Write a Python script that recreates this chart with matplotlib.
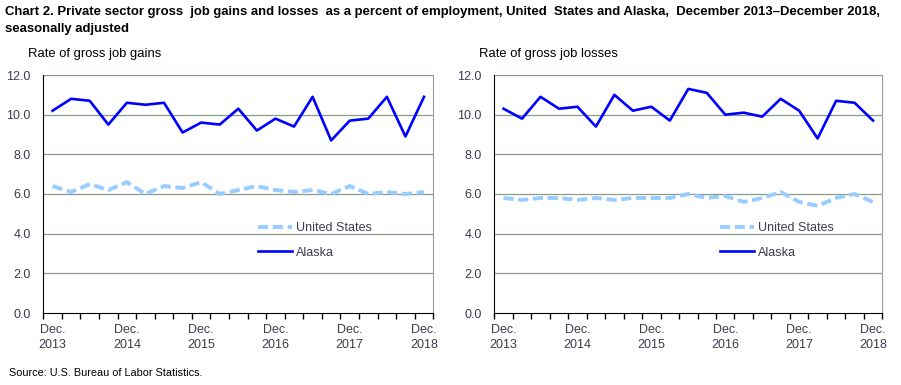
import matplotlib
matplotlib.use("Agg")
import matplotlib.pyplot as plt
from matplotlib import font_manager

names = {f.name for f in font_manager.fontManager.ttflist}
TITLE_FONT = "Liberation Sans Narrow" if "Liberation Sans Narrow" in names else "Liberation Sans"
TITLE_SIZE = 10 if TITLE_FONT == "Liberation Sans Narrow" else 9.45
plt.rcParams['font.family'] = ['Liberation Sans', 'DejaVu Sans']

# ---- data ----
quarters = list(range(21))
year_labels = ["Dec.\n2013", "Dec.\n2014", "Dec.\n2015", "Dec.\n2016", "Dec.\n2017", "Dec.\n2018"]
year_label_pos = [0, 4, 8, 12, 16, 20]

gains_us = [6.4, 6.1, 6.5, 6.2, 6.6, 6.0, 6.4, 6.3, 6.6, 6.0, 6.2, 6.4, 6.2, 6.1, 6.2, 6.0, 6.4, 6.0, 6.1, 6.0, 6.1]
gains_ak = [10.2, 10.8, 10.7, 9.5, 10.6, 10.5, 10.6, 9.1, 9.6, 9.5, 10.3, 9.2, 9.8, 9.4, 10.9, 8.7, 9.7, 9.8, 10.9, 8.9, 10.9]
losses_us = [5.8, 5.7, 5.8, 5.8, 5.7, 5.8, 5.7, 5.8, 5.8, 5.8, 6.0, 5.8, 5.9, 5.6, 5.8, 6.1, 5.6, 5.4, 5.8, 6.0, 5.6]
losses_ak = [10.3, 9.8, 10.9, 10.3, 10.4, 9.4, 11.0, 10.2, 10.4, 9.7, 11.3, 11.1, 10.0, 10.1, 9.9, 10.8, 10.2, 8.8, 10.7, 10.6, 9.7]

yticks = [0, 2, 4, 6, 8, 10, 12]
title = ("Chart 2. Private sector gross  job gains and losses  as a percent of employment, United  States and Alaska,  December 2013\u2013December 2018,\n"
         "seasonally adjusted")
source = "Source: U.S. Bureau of Labor Statistics."

TICK_COLOR = "#3c3c50"
GRID_COLOR = "#8c9a8c"
US_COLOR = "#99ccff"
AK_COLOR = "#0000ff"

fig = plt.figure(figsize=(9.01, 3.85), dpi=100)
W, H = 901, 385

def axes_px(x0, x1, ytop, ybot):
    return fig.add_axes([x0 / W, 1 - ybot / H, (x1 - x0) / W, (ybot - ytop) / H])

ax1 = axes_px(43.3, 433.3, 75, 313)
ax2 = axes_px(494.3, 882.3, 75, 313)

panels = [
    (ax1, gains_us, gains_ak, "Rate of gross job gains", 258),
    (ax2, losses_us, losses_ak, "Rate of gross job losses", 720),
]

for ax, us, ak, sub, leg_x in panels:
    ax.plot(quarters, us, color=US_COLOR, lw=2.8, dashes=(2.6, 1.2), label="United States",
            solid_capstyle='butt', zorder=3)
    ax.plot(quarters, ak, color=AK_COLOR, lw=1.9, label="Alaska", zorder=4)
    ax.set_xlim(-0.5, 20.5)
    ax.set_ylim(0, 12)
    ax.set_yticks(yticks)
    ax.set_yticklabels([f"{v:.1f}" for v in yticks])
    for v in yticks[1:]:
        ax.axhline(v, color=GRID_COLOR, lw=0.9, zorder=1)
    # boundary ticks
    ax.set_xticks([i - 0.5 for i in range(22)])
    ax.set_xticklabels([])
    ax.tick_params(axis='x', which='major', direction='out', length=4, width=1, color='black')
    ax.set_xticks(year_label_pos, minor=True)
    ax.set_xticklabels(year_labels, minor=True)
    ax.tick_params(axis='x', which='minor', length=0, pad=8, labelsize=9, labelcolor=TICK_COLOR)
    ax.tick_params(axis='y', length=0, pad=9, labelsize=9, labelcolor=TICK_COLOR)
    for lab in ax.get_xticklabels(minor=True):
        lab.set_linespacing(1.3)
    ax.spines['top'].set_visible(False)
    ax.spines['right'].set_color('#9a9a9a')
    ax.spines['right'].set_linestyle((0, (1, 1)))
    ax.spines['left'].set_color('black')
    ax.spines['bottom'].set_color('black')
    ax.text(-0.04, 1.09, sub, transform=ax.transAxes, fontsize=9.4, color='black', ha='left', va='center')
    # legend
    bx = (leg_x - (ax.get_position().x0 * W)) / (ax.get_position().width * W)
    leg = ax.legend(loc='center left', bbox_to_anchor=(bx, 0.305), frameon=False,
                    handlelength=2.7, handletextpad=0.35, labelspacing=1.0, fontsize=9,
                    borderaxespad=0, borderpad=0)
    for t in leg.get_texts():
        t.set_color(TICK_COLOR)

fig.text(5 / W, 1 - 6 / H, title, fontsize=TITLE_SIZE, fontweight='bold', family=[TITLE_FONT, 'DejaVu Sans'],
         ha='left', va='top', linespacing=1.6)
fig.text(9 / W, 1 - 373 / H, source, fontsize=7.8, ha='left', va='center', color='black')

fig.savefig("out.png", dpi=100)
